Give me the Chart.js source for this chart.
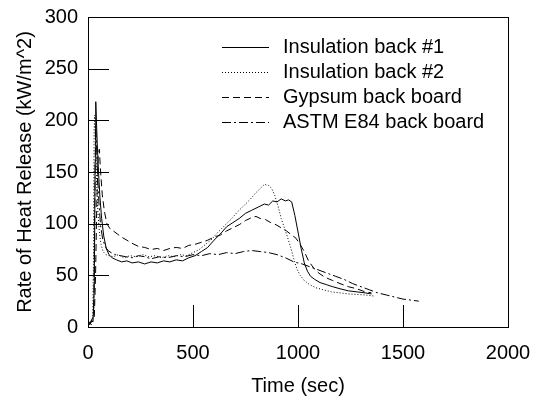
<!DOCTYPE html>
<html lang="en">
<head>
    <meta charset="UTF-8">
    <title>Rate of Heat Release</title>
    <script src="https://cdn.jsdelivr.net/npm/chart.js"></script>
    <style>
        body {
            margin: 0;
            background-color: #ffffff;
        }
        #wrap {
            width: 537px;
            height: 402px;
        }
    </style>
</head>
<body>
    <div id="wrap"><canvas id="hrrChart"></canvas></div>

    <script>
        const seriesNames = ['Insulation back #1', 'Insulation back #2', 'Gypsum back board', 'ASTM E84 back board'];

        // Insulation back #1 (solid)
        const ins1Time = [0,8,16,24,30,34,37,40,44,50,57,65,75,87,100,115,135,160,185,210,240,270,300,330,360,390,420,450,480,510,540,570,600,630,660,690,720,750,780,810,840,860,880,900,920,940,955,970,985,1000,1015,1030,1045,1060,1080,1105,1135,1165,1200,1240,1280,1320,1350];
        const ins1Hrr = [4,2,6,5,40,160,218,200,178,150,125,105,88,76,70,67,65,63,64,62,63,61,63,62,64,63,65,64,67,69,73,77,84,90,97,101,105,110,113,116,119,118,122,121,124,122,123,121,108,92,76,62,54,49,46,43,41,39,37,35,34,33,32];

        // Insulation back #2 (dotted)
        const ins2Time = [0,8,16,22,26,29,32,36,41,47,54,62,72,85,100,120,145,170,200,230,260,290,320,350,380,410,440,470,500,530,560,590,620,650,680,710,740,770,800,820,840,860,875,890,905,920,935,950,965,980,995,1010,1030,1055,1085,1120,1160,1200,1240,1280,1320,1360];
        const ins2Hrr = [3,5,2,8,60,190,205,178,140,112,92,80,73,70,69,68,70,67,69,68,70,68,69,67,69,68,70,69,72,75,80,85,92,98,104,111,117,123,130,134,138,137,134,127,117,105,96,87,77,66,56,50,45,41,38,36,34,33,32,31.5,31,30];

        // Gypsum back board (dashed)
        const gypTime = [0,10,20,30,36,42,48,54,60,68,78,90,105,120,140,160,185,210,240,270,300,330,360,390,420,450,480,510,540,570,600,630,660,690,720,750,780,800,820,845,870,895,920,945,970,990,1010,1030,1050,1075,1100,1130,1165,1200,1240,1280,1320,1350];
        const gypHrr = [5,3,6,10,50,120,165,172,150,128,112,100,95,93,90,87,84,81,78,77,75,76,74,76,77,76,79,80,82,84,87,89,93,96,99,103,106,107,105,104,101,99,96,93,89,86,80,73,64,57,52,48,45,42,39,37,34,33];

        // ASTM E84 back board (dash-dot)
        const astmTime = [0,10,20,27,32,36,40,45,52,60,70,82,95,110,130,155,180,210,240,270,300,340,380,420,460,500,540,580,620,660,700,740,780,820,860,900,940,980,1020,1060,1100,1140,1180,1220,1260,1300,1340,1380,1420,1460,1500,1540,1575];
        const astmHrr = [6,4,8,12,110,195,180,150,120,98,85,78,74,72,70,69,68,67,69,68,66,68,67,69,68,70,69,71,70,72,71,73,74,73,72,70,67,63,61,58,55,52,49,46,42,39,36,33,31,29,27,26,25];

        const xTicks = [0, 500, 1000, 1500, 2000];
        const yTicks = [0, 50, 100, 150, 200, 250, 300];

        const FONT = '"Liberation Sans", Arial, sans-serif';

        function toPoints(times, values) {
            return times.map((t, i) => ({ x: t, y: values[i] }));
        }

        // box, inward ticks and legend drawn on top of the chart area
        const framePlugin = {
            id: 'frame',
            afterDraw(chart) {
                const ctx = chart.ctx;
                const area = chart.chartArea;
                const xs = chart.scales.x;
                const ys = chart.scales.y;
                ctx.save();
                ctx.strokeStyle = '#000';
                ctx.lineWidth = 1;
                ctx.setLineDash([]);
                ctx.strokeRect(Math.round(area.left) + 0.5, Math.round(area.top) + 0.5,
                    Math.round(area.right - area.left), Math.round(area.bottom - area.top));

                ctx.beginPath();
                yTicks.slice(1, -1).forEach(v => {
                    const py = Math.round(ys.getPixelForValue(v)) + 0.5;
                    ctx.moveTo(area.left, py);
                    ctx.lineTo(area.left + 21, py);
                });
                xTicks.slice(1, -1).forEach(v => {
                    const px = Math.round(xs.getPixelForValue(v)) + 0.5;
                    ctx.moveTo(px, area.bottom);
                    ctx.lineTo(px, area.bottom - 22);
                });
                ctx.stroke();

                // legend
                ctx.font = '20px ' + FONT;
                ctx.fillStyle = '#000';
                ctx.textBaseline = 'middle';
                chart.data.datasets.forEach((ds, i) => {
                    const ly = 47 + i * 25;
                    ctx.beginPath();
                    ctx.setLineDash(ds.borderDash || []);
                    ctx.moveTo(222, ly + 0.5);
                    ctx.lineTo(269, ly + 0.5);
                    ctx.stroke();
                    ctx.setLineDash([]);
                    ctx.fillText(ds.label, 283, ly);
                });
                ctx.restore();
            }
        };

        function renderChart() {
            const ctx = document.getElementById('hrrChart').getContext('2d');
            const lineStyle = { borderColor: '#000', borderWidth: 1, pointRadius: 0, tension: 0, showLine: true, fill: false };
            new Chart(ctx, {
                type: 'scatter',
                data: {
                    datasets: [
                        Object.assign({ label: seriesNames[0], data: toPoints(ins1Time, ins1Hrr), borderDash: [] }, lineStyle),
                        Object.assign({ label: seriesNames[1], data: toPoints(ins2Time, ins2Hrr), borderDash: [1, 2] }, lineStyle),
                        Object.assign({ label: seriesNames[2], data: toPoints(gypTime, gypHrr), borderDash: [7, 4] }, lineStyle),
                        Object.assign({ label: seriesNames[3], data: toPoints(astmTime, astmHrr), borderDash: [9, 3, 2, 3] }, lineStyle)
                    ]
                },
                options: {
                    responsive: true,
                    maintainAspectRatio: false,
                    animation: false,
                    layout: { padding: { left: 0, top: 17, right: 29, bottom: 0 } },
                    plugins: {
                        legend: { display: false },
                        tooltip: { enabled: false }
                    },
                    scales: {
                        x: {
                            type: 'linear',
                            min: 0,
                            max: 2000,
                            afterFit(scale) {
                                scale.height = 75;
                                scale.paddingLeft = 0;
                                scale.paddingRight = 0;
                            },
                            afterBuildTicks(scale) { scale.ticks = xTicks.map(v => ({ value: v })); },
                            grid: { display: false, drawTicks: false },
                            border: { display: false },
                            ticks: { color: '#000', padding: 14, maxRotation: 0, callback: v => String(v), font: { family: FONT, size: 20 } },
                            title: { display: true, text: 'Time (sec)', color: '#000', padding: { top: 0, bottom: 4 }, font: { family: FONT, size: 20 } }
                        },
                        y: {
                            min: 0,
                            max: 300,
                            afterFit(scale) {
                                scale.width = 88;
                                scale.paddingTop = 0;
                                scale.paddingBottom = 0;
                            },
                            afterBuildTicks(scale) { scale.ticks = yTicks.map(v => ({ value: v })); },
                            grid: { display: false, drawTicks: false },
                            border: { display: false },
                            ticks: { color: '#000', padding: 10, callback: v => String(v), font: { family: FONT, size: 20 } },
                            title: { display: true, text: 'Rate of Heat Release (kW/m^2)', color: '#000', padding: { top: 13, bottom: 0 }, font: { family: FONT, size: 20 } }
                        }
                    }
                },
                plugins: [framePlugin]
            });
        }

        renderChart();
    </script>
</body>
</html>
